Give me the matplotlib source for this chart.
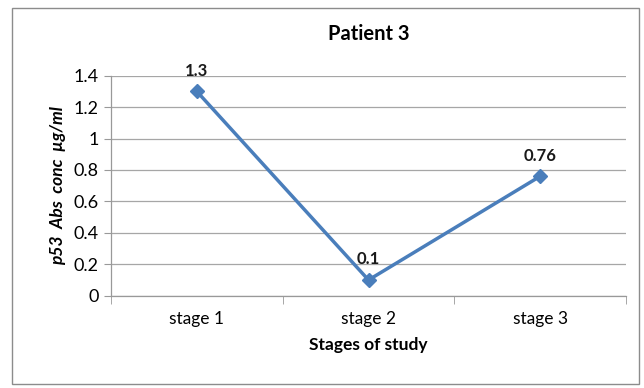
import matplotlib
matplotlib.use("Agg")
import matplotlib.pyplot as plt
from matplotlib.patches import Rectangle

categories = ["stage 1", "stage 2", "stage 3"]
values = [1.3, 0.1, 0.76]
yticks = [0, 0.2, 0.4, 0.6, 0.8, 1, 1.2, 1.4]
ytick_labels = ["0", "0.2", "0.4", "0.6", "0.8", "1", "1.2", "1.4"]

plt.rcParams['font.family'] = ['Lato', 'DejaVu Sans']

W, H = 644, 388
fig = plt.figure(figsize=(W/100, H/100), dpi=100)
fig.patch.set_facecolor("white")
fig.patches.append(Rectangle((12/W, 1 - 384/H), (639-12)/W, (384-8)/H,
                             transform=fig.transFigure, fill=False,
                             edgecolor="#8c8c8c", linewidth=1.0))

left, right, top, bottom = 111, 626, 75.7, 295.7
ax = fig.add_axes([left/W, 1 - bottom/H, (right-left)/W, (bottom-top)/H])

x = list(range(len(categories)))
ax.plot(x, values, color="#4A7EBB", linewidth=2.5, marker="D", markersize=7,
        markerfacecolor="#4A7EBB", markeredgecolor="#4A7EBB", zorder=3)
for xi, v in zip(x, values):
    ax.annotate(f"{v:g}", (xi, v), xytext=(0, 9), textcoords="offset points",
                ha="center", va="bottom", fontsize=12, fontweight="bold", color="#1a1a1a")

ax.set_xlim(-0.5, 2.5)
ax.set_ylim(0, 1.4)
ax.set_yticks(yticks)
ax.set_yticklabels(ytick_labels, fontsize=13)
ax.set_xticks(x)
ax.set_xticklabels(categories, fontsize=12.5)
ax.set_xticks([-0.5, 0.5, 1.5, 2.5], minor=True)
ax.tick_params(axis="x", which="major", length=0, pad=11)
ax.tick_params(axis="x", which="minor", length=6, color="#999999", direction="out")
ax.tick_params(axis="y", length=5, color="#999999", direction="out", pad=4)
ax.grid(axis="y", color="#a6a6a6", linewidth=0.9)
ax.set_axisbelow(True)
for s in ["top", "right"]:
    ax.spines[s].set_visible(False)
for s in ["left", "bottom"]:
    ax.spines[s].set_color("#999999")
    ax.spines[s].set_linewidth(0.9)

ax.set_title("Patient 3", fontsize=14.5, fontweight="bold", pad=26)
ax.set_xlabel("Stages of study", fontsize=12.5, fontweight="bold", labelpad=7)
ax.set_ylabel("p53  Abs  conc  µg/ml", fontsize=12.5, fontweight="bold",
              fontstyle="italic", labelpad=5)

fig.savefig("out.png", dpi=100)
